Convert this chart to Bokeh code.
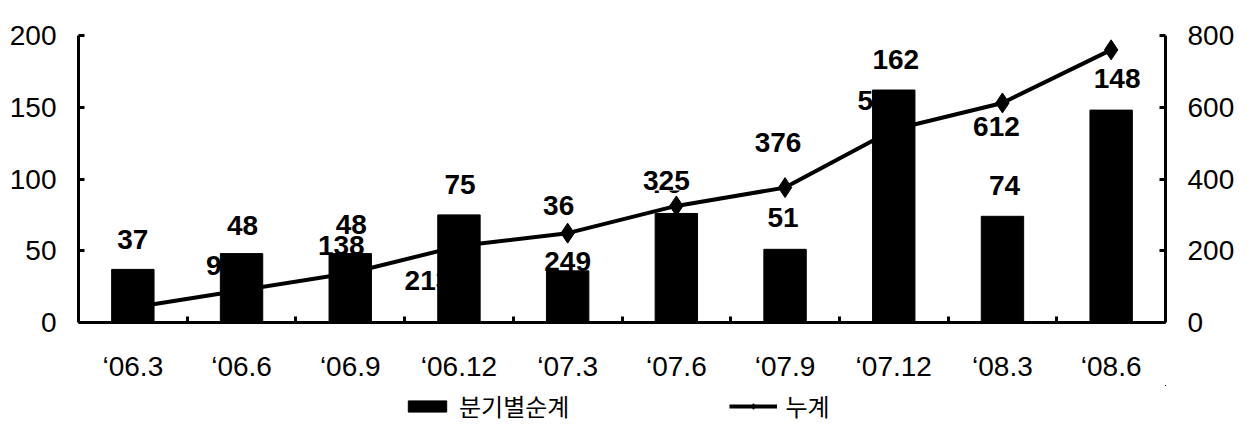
import numpy as np
from bokeh.plotting import figure
from bokeh.layouts import column
from bokeh.models import (ColumnDataSource, Range1d, LinearAxis, FixedTicker, Legend,
                          LegendItem, CDSView, IndexFilter)
from bokeh.core.properties import value
from bokeh.embed import file_html
from bokeh.resources import INLINE

categories = ["\u201806.3", "\u201806.6", "\u201806.9", "\u201806.12", "\u201807.3",
              "\u201807.6", "\u201807.9", "\u201807.12", "\u201808.3", "\u201808.6"]
quarterly = [37, 48, 48, 75, 36, 76, 51, 162, 74, 148]
cumulative = [42, 90, 138, 213, 249, 325, 376, 538, 612, 760]
left_ticks = [0, 50, 100, 150, 200]
right_ticks = [0, 200, 400, 600, 800]
series_names = ["분기별순계", "누계"]

# label placement (screen px), styling only
bar_lbl_dx = [0, 1, 1, 1, -9, -10, -2, 2, 2, 6]
bar_lbl_dy = [-30, -28, -29, -30, -65, -30, -32, -31, -31, -32]
cum_lbl_dx = [0, -20, -9, -31, 0, -10, -7, -13, -6, -4]
cum_lbl_dy = [-14, -25, -27, 34, 28, -25, -45, -29, 24, -24]

NUM_FONT = "Liberation Sans"

n = len(categories)
xpos = (np.arange(n) + 0.5).tolist()

src = ColumnDataSource(dict(
    x=xpos, cat=categories, bar=quarterly, cum=cumulative,
    bar_txt=[str(v) for v in quarterly], cum_txt=[str(v) for v in cumulative],
    bdx=bar_lbl_dx, bdy=bar_lbl_dy, cdx=cum_lbl_dx, cdy=cum_lbl_dy,
))

p = figure(width=1253, height=385, output_backend="svg", toolbar_location=None,
           x_range=Range1d(0, n),
           y_range=Range1d(left_ticks[0], left_ticks[-1]),
           x_axis_location=None, y_axis_location=None,
           min_border_left=78, min_border_right=88, min_border_top=35, min_border_bottom=63)
p.extra_y_ranges = {"cum": Range1d(right_ticks[0], right_ticks[-1])}
p.outline_line_color = None
p.xgrid.visible = False
p.ygrid.visible = False
p.background_fill_color = "white"
p.border_fill_color = "white"

def style_y(ax):
    ax.axis_line_width = 3
    ax.axis_line_color = "black"
    ax.major_tick_line_width = 3
    ax.major_tick_in = 6
    ax.major_tick_out = 0
    ax.minor_tick_line_color = None
    ax.major_label_text_font = NUM_FONT
    ax.major_label_text_font_size = "28px"
    ax.major_label_text_color = "black"
    ax.major_label_standoff = 22

yl = LinearAxis(ticker=FixedTicker(ticks=left_ticks))
style_y(yl)
p.add_layout(yl, "left")
yr = LinearAxis(y_range_name="cum", ticker=FixedTicker(ticks=right_ticks))
style_y(yr)
p.add_layout(yr, "right")

# boundary ticks on x axis
xt = LinearAxis(ticker=FixedTicker(ticks=list(range(1, n))))
xt.axis_line_width = 3
xt.major_tick_line_width = 3
xt.major_tick_in = 6
xt.major_tick_out = 0
xt.minor_tick_line_color = None
xt.major_label_text_font_size = "1px"
xt.major_label_text_color = None
xt.major_label_standoff = 0
p.add_layout(xt, "below")

xl = LinearAxis(ticker=FixedTicker(ticks=xpos),
                major_label_overrides={x: c for x, c in zip(xpos, categories)})
xl.axis_line_color = None
xl.major_tick_line_color = None
xl.minor_tick_line_color = None
xl.major_label_text_font = NUM_FONT
xl.major_label_text_font_size = "28px"
xl.major_label_text_color = "black"
xl.major_label_standoff = 22
p.add_layout(xl, "below")

p.line("x", "cum", source=src, y_range_name="cum", line_width=4, color="black")
p.scatter("x", "cum", source=src, y_range_name="cum", marker="diamond", size=20, color="black")

p.text("x", "bar", text="bar_txt", source=src, x_offset="bdx", y_offset="bdy",
       text_font=value(NUM_FONT), text_font_style="bold", text_font_size="28px",
       text_align="center", text_baseline="middle", text_color="black")
p.text("x", "cum", text="cum_txt", source=src, y_range_name="cum", x_offset="cdx",
       y_offset="cdy", text_font=value(NUM_FONT), text_font_style="bold",
       text_font_size="28px", text_align="center", text_baseline="middle", text_color="black")

p.vbar(x="x", top="bar", source=src, width=0.39, color="black")

p.text("x", "cum", text="cum_txt", source=src, y_range_name="cum", x_offset="cdx",
       y_offset="cdy", view=CDSView(filter=IndexFilter([5])),
       text_font=value(NUM_FONT), text_font_style="bold", background_fill_color="white",
       text_font_size="28px", text_align="center", text_baseline="middle", text_color="black")

# legend strip (proxy renderers share the data but sit far outside this strip's view)
lg = figure(width=1253, height=44, output_backend="svg", toolbar_location=None,
            x_range=Range1d(-300, -299), y_range=Range1d(-300, -299),
            x_axis_location=None, y_axis_location=None,
            min_border=0)
lg.outline_line_color = None
lg.xgrid.visible = False
lg.ygrid.visible = False
lb = lg.vbar(x="x", top="bar", source=src, width=0.39, color="black")
ll = lg.line("x", "cum", source=src, line_width=4, color="black")
lm = lg.scatter("x", "cum", source=src, marker="diamond", size=20, color="black")

legend = Legend(items=[LegendItem(label=series_names[0], renderers=[lb]),
                       LegendItem(label=series_names[1], renderers=[ll, lm])],
                orientation="horizontal", location=(325, 6))
legend.label_text_font = "Noto Sans CJK KR"
legend.label_text_font_size = "24px"
legend.label_text_color = "black"
legend.glyph_width = 48
legend.glyph_height = 14
legend.spacing = 160
legend.label_standoff = 8
legend.border_line_color = None
legend.background_fill_alpha = 0
legend.padding = 0
legend.margin = 0
lg.add_layout(legend, "center")

layout = column(p, lg, spacing=0)
open("out.html", "w").write(file_html(layout, INLINE))
